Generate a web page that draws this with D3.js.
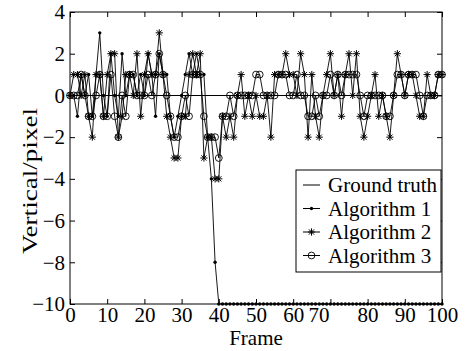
<!DOCTYPE html>
<html>
<head>
<meta charset="utf-8">
<script src="https://cdn.jsdelivr.net/npm/d3@7"></script>
<style>
    body { margin: 0; background: #fff; }
    svg text { font-family: "Liberation Serif", "Times New Roman", serif; fill: #000; }
</style>
</head>
<body>
<svg id="chart" width="472" height="351"></svg>
<script>
// frame index 0..100
const frames = d3.range(0, 101);
const groundTruth = frames.map(() => 0);

const algorithm1 = [
    0, 0, -1, 1, 0, 1, -1, 1, 3, 0,
    -1, 2, 0, -1, 2, 0, 1, 1, 0, 1,
    0, 2, 1, -1, 2, 1, 1, -1, -2, -1,
    0, 1, 2, 1, 2, 1, 1, -2, -4, -8,
    -10, -10, -10, -10, -10, -10, -10, -10, -10, -10,
    -10, -10, -10, -10, -10, -10, -10, -10, -10, -10,
    -10, -10, -10, -10, -10, -10, -10, -10, -10, -10,
    -10, -10, -10, -10, -10, -10, -10, -10, -10, -10,
    -10, -10, -10, -10, -10, -10, -10, -10, -10, -10,
    -10, -10, -10, -10, -10, -10, -10, -10, -10, -10,
    -10
];

const algorithm2 = [
    0, 1, 1, 0, 1, -1, -2, 1, 1, -1,
    1, 2, 2, -2, -1, 1, 1, 0, 2, -1,
    1, 2, 1, 1, 3, 1, -1, -2, -3, -3,
    -1, -1, 1, 2, 1, 2, -3, -2, -2, -4,
    -4, -1, -2, -1, -2, 0, 1, -1, 0, -1,
    0, -1, -1, 0, -2, 1, 1, 1, 2, 1,
    1, 0, 2, 1, -2, 1, -1, -2, 0, 1,
    2, 0, 1, -1, 1, 2, 0, 2, -1, -2,
    -1, 0, 1, -1, 0, -1, -2, 0, 2, 1,
    0, 1, 1, 0, -1, -1, 1, 0, 0, 1,
    1
];

const algorithm3 = [
    0, 0, 0, 1, 0, -1, -1, 0, 1, -1,
    -1, 1, -1, -2, 0, -1, 1, 1, 0, 0,
    0, 1, 0, 1, 2, 1, 0, -1, -2, -2,
    -1, 0, -1, 1, 1, 1, -1, -2, -2, -2,
    -3, -1, -1, 0, -1, 0, 0, 0, 0, 0,
    1, 1, 0, 0, 0, 0, 1, 1, 1, 0,
    0, 1, 0, 0, -1, -1, 0, -1, 0, 0,
    1, 0, 1, 0, 1, 1, 1, 1, 0, -1,
    0, 0, 0, 0, 0, -1, -1, 0, 1, 1,
    0, 1, 1, 1, 0, -1, 0, 0, 0, 1,
    1
];

const seriesNames = ["Ground truth", "Algorithm 1", "Algorithm 2", "Algorithm 3"];
const seriesValues = [groundTruth, algorithm1, algorithm2, algorithm3];
const seriesMarkers = ["none", "dot", "asterisk", "circle"];

const xTicks = [0, 10, 20, 30, 40, 50, 60, 70, 80, 90, 100];
const yTicks = [4, 2, 0, -2, -4, -6, -8, -10];

const svg = d3.select("#chart");
const plotLeft = 70, plotRight = 442, plotTop = 12, plotBottom = 304;
const serif = "'Liberation Serif', 'Times New Roman', serif";

const x = d3.scaleLinear().domain([0, 100]).range([plotLeft, plotRight]);
const y = d3.scaleLinear().domain([-10, 4]).range([plotBottom, plotTop]);

// marker shapes
function drawMarker(g, kind) {
    if (kind === "dot") {
        g.append("circle").attr("r", 1.7).attr("fill", "#000");
    } else if (kind === "circle") {
        g.append("circle").attr("r", 3.4).attr("fill", "none")
            .attr("stroke", "#000").attr("stroke-width", 0.9);
    } else if (kind === "asterisk") {
        const s = 3.6, d = s * 0.72;
        g.append("path")
            .attr("d", `M${-s},0H${s}M0,${-s}V${s}M${-d},${-d}L${d},${d}M${-d},${d}L${d},${-d}`)
            .attr("stroke", "#000").attr("stroke-width", 1);
    }
}

const line = d3.line()
    .x((d, i) => x(frames[i]))
    .y(d => y(d));

seriesValues.forEach((values, k) => {
    svg.append("path")
        .datum(values)
        .attr("d", line)
        .attr("fill", "none")
        .attr("stroke", "#000")
        .attr("stroke-width", k === 0 ? 1.1 : 0.9);

    if (seriesMarkers[k] === "none") return;
    svg.append("g")
        .selectAll("g")
        .data(values)
        .join("g")
        .attr("transform", (d, i) => `translate(${x(frames[i])},${y(d)})`)
        .each(function () { drawMarker(d3.select(this), seriesMarkers[k]); });
});

// axes box
svg.append("rect")
    .attr("x", plotLeft).attr("y", plotTop)
    .attr("width", plotRight - plotLeft).attr("height", plotBottom - plotTop)
    .attr("fill", "none").attr("stroke", "#000").attr("stroke-width", 1);

const fontSize = 21;

const xAxis = svg.append("g")
    .attr("transform", `translate(0,${plotBottom})`)
    .call(d3.axisBottom(x).tickValues(xTicks).tickSize(-5).tickSizeOuter(0).tickPadding(3));
xAxis.attr("font-family", serif).attr("font-size", fontSize);
xAxis.selectAll("text")
    .attr("font-family", serif)
    .attr("font-size", fontSize)
    .attr("dx", d => d === 70 ? -12 : 0);

svg.append("g")
    .attr("transform", `translate(0,${plotTop})`)
    .call(d3.axisTop(x).tickValues(xTicks).tickSize(-5).tickSizeOuter(0).tickFormat(""));

const yAxis = svg.append("g")
    .attr("transform", `translate(${plotLeft},0)`)
    .call(d3.axisLeft(y).tickValues(yTicks).tickSize(-5).tickSizeOuter(0).tickPadding(5));
yAxis.attr("font-family", serif).attr("font-size", fontSize);
yAxis.selectAll("text").attr("font-family", serif).attr("font-size", fontSize);

svg.append("g")
    .attr("transform", `translate(${plotRight},0)`)
    .call(d3.axisRight(y).tickValues(yTicks).tickSize(-5).tickSizeOuter(0).tickFormat(""));

svg.selectAll(".domain").remove();
svg.selectAll(".tick line").attr("stroke", "#000");

// axis titles
svg.append("text")
    .attr("x", (plotLeft + plotRight) / 2)
    .attr("y", 345)
    .attr("text-anchor", "middle")
    .attr("font-size", 21)
    .text("Frame");

svg.append("text")
    .attr("transform", "translate(37,181) rotate(-90)")
    .attr("text-anchor", "middle")
    .attr("font-size", 22)
    .attr("textLength", 146)
    .attr("lengthAdjust", "spacingAndGlyphs")
    .text("Vertical/pixel");

// legend
const legend = svg.append("g").attr("transform", "translate(296,170)");
legend.append("rect")
    .attr("width", 145).attr("height", 102)
    .attr("fill", "#fff").attr("stroke", "#000").attr("stroke-width", 1);

seriesNames.forEach((name, k) => {
    const rowY = 15 + k * 23.5;
    const row = legend.append("g").attr("transform", `translate(0,${rowY})`);
    row.append("line")
        .attr("x1", 7).attr("x2", 24)
        .attr("stroke", "#000").attr("stroke-width", 1);
    const m = row.append("g").attr("transform", "translate(15.5,0)");
    drawMarker(m, seriesMarkers[k]);
    row.append("text")
        .attr("x", 32)
        .attr("dy", "0.35em")
        .attr("font-size", 21)
        .text(name);
});
</script>
</body>
</html>
